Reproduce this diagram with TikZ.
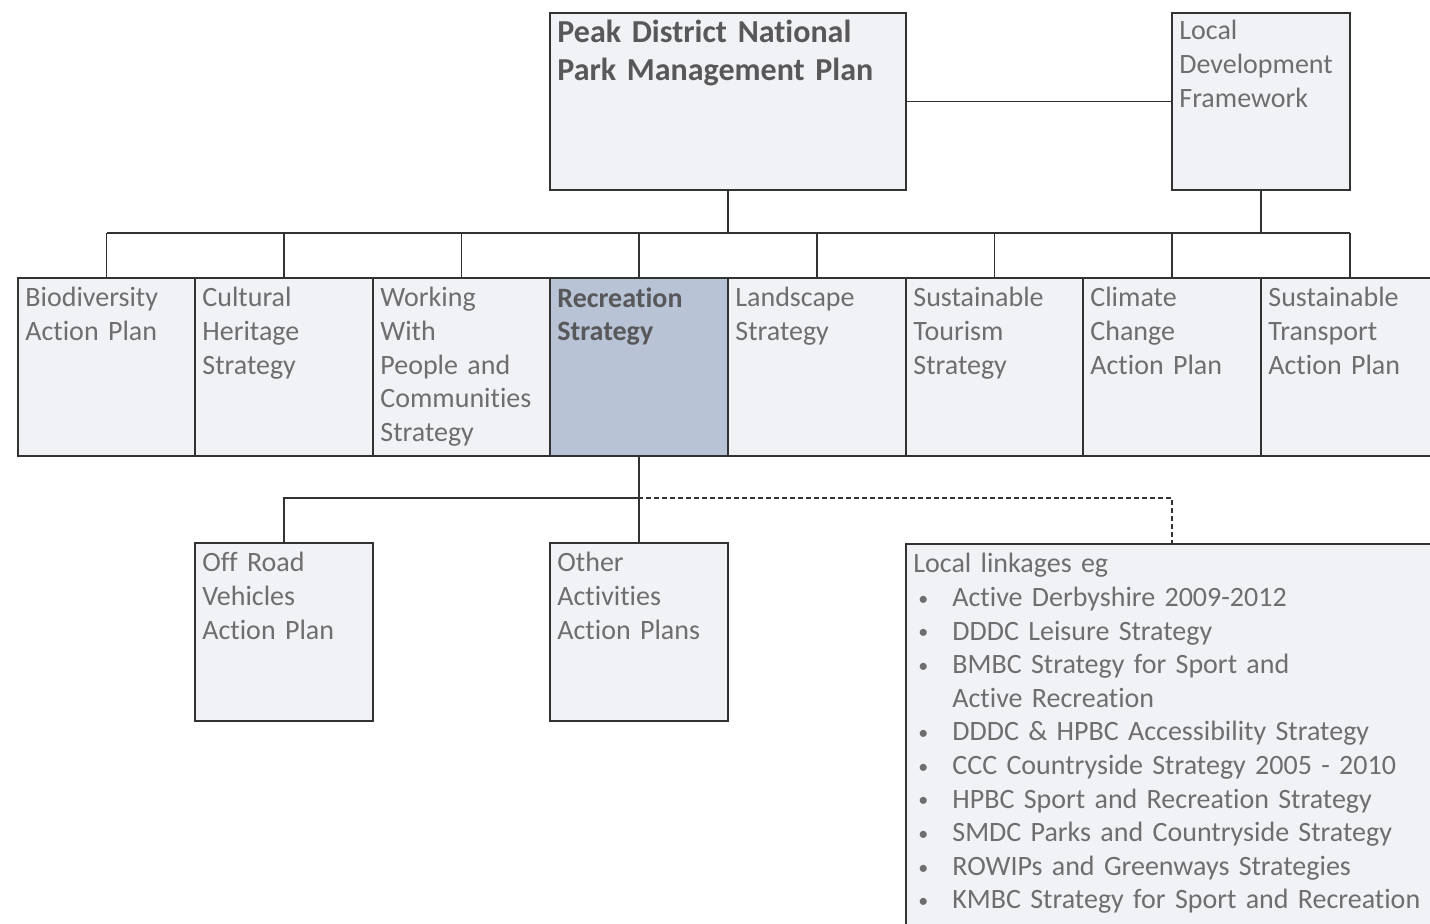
\documentclass[tikz,border=0pt]{standalone}
\usepackage{fontspec}
\setmainfont{Carlito}[Ligatures=NoCommon]
\definecolor{boxfill}{RGB}{241,242,246}
\definecolor{recfill}{RGB}{184,195,214}
\definecolor{linec}{RGB}{50,50,50}
\definecolor{txtc}{RGB}{110,110,112}
\definecolor{titc}{RGB}{88,88,90}
\newcommand{\bl}{\makebox[19.5pt][l]{\hspace{2.5pt}\raisebox{0.6pt}{\fontsize{10pt}{10pt}\selectfont\textbullet}}}
\begin{document}
\begin{tikzpicture}[x=0.5pt,y=-0.5pt,
  box/.style={draw=linec, line width=1pt, fill=boxfill, anchor=north west, inner sep=0pt, rectangle},
  txt/.style={anchor=north west, inner sep=0pt, align=left, text=txtc, text width=81pt, font=\fontsize{14pt}{16.8pt}\selectfont},
  tit/.style={txt, text=titc, font=\fontsize{14pt}{16.8pt}\selectfont\bfseries},
  conn/.style={draw=linec, line width=0.75pt}]
\clip (0,0) rectangle (1430,924);
\fill[white] (0,0) rectangle (1430,924);
% top level
\node[box, minimum width=178pt, minimum height=88.5pt] (top) at (549,12) {};
\node[box, minimum width=89pt, minimum height=88.5pt] (ldf) at (1171,12) {};
% second row
\node[box, minimum width=88.5pt, minimum height=89pt] (b1) at (17,277) {};
\node[box, minimum width=89pt, minimum height=89pt] (b2) at (194,277) {};
\node[box, minimum width=88.5pt, minimum height=89pt] (b3) at (372,277) {};
\node[box, fill=recfill, minimum width=89pt, minimum height=89pt] (b4) at (549,277) {};
\node[box, minimum width=89pt, minimum height=89pt] (b5) at (727,277) {};
\node[box, minimum width=88.5pt, minimum height=89pt] (b6) at (905,277) {};
\node[box, minimum width=89pt, minimum height=89pt] (b7) at (1082,277) {};
\node[box, minimum width=89pt, minimum height=89pt] (b8) at (1260,277) {};
% third row
\node[box, minimum width=89pt, minimum height=89pt] (off) at (194,542) {};
\node[box, minimum width=89pt, minimum height=89pt] (oth) at (549,542) {};
\node[box, minimum width=266pt, minimum height=200pt] (loc) at (905,543) {};
% connectors
\coordinate (hbar) at (106,233);
\coordinate (j) at (638,498);
\draw[conn] (top.east) -- (ldf.west);
\draw[conn] (top.south) -- (top.south |- hbar);
\draw[conn] (ldf.south) -- (ldf.south |- hbar);
\draw[conn] (b1.north |- hbar) -- (b8.north |- hbar);
\foreach \b in {b1,b2,b3,b4,b5,b6,b7,b8}{
  \draw[conn] (\b.north) -- (\b.north |- hbar);
}
\draw[conn] (b4.south) -- (oth.north);
\draw[conn] (j) -| (off.north);
\draw[conn, dash pattern=on 2.5pt off 1.5pt] (j) -| (loc.north);
% texts
\node[tit, text width=170pt, font=\fontsize{16pt}{19pt}\selectfont\bfseries] (ttop) at (557,20) {Peak District National\\Park Management Plan};
\node[txt] (tldf) at (1179,20) {Local\\Development\\Framework};
\node[txt] (t1) at (25,287) {Biodiversity\\Action Plan};
\node[txt] (t2) at (202,287) {Cultural\\Heritage\\Strategy};
\node[txt] (t3) at (380,287) {Working\\With\\People and\\Communities\\Strategy};
\node[tit] (t4) at (557,287) {Recreation\\Strategy};
\node[txt] (t5) at (735,287) {Landscape\\Strategy};
\node[txt] (t6) at (913,287) {Sustainable\\Tourism\\Strategy};
\node[txt] (t7) at (1090,287) {Climate\\Change\\Action Plan};
\node[txt] (t8) at (1268,287) {Sustainable\\Transport\\Action Plan};
\node[txt] (toff) at (202,552) {Off Road\\Vehicles\\Action Plan};
\node[txt] (toth) at (557,552) {Other\\Activities\\Action Plans};
\node[txt, text width=262pt] (tloc) at (913,553) {Local linkages eg\\
\bl Active Derbyshire 2009-2012\\
\bl DDDC Leisure Strategy\\
\bl BMBC Strategy for Sport and\\
\hspace*{19.5pt}Active Recreation\\
\bl DDDC \& HPBC Accessibility Strategy\\
\bl CCC Countryside Strategy 2005 - 2010\\
\bl HPBC Sport and Recreation Strategy\\
\bl SMDC Parks and Countryside Strategy\\
\bl ROWIPs and Greenways Strategies\\
\bl KMBC Strategy for Sport and Recreation};
\end{tikzpicture}
\end{document}
